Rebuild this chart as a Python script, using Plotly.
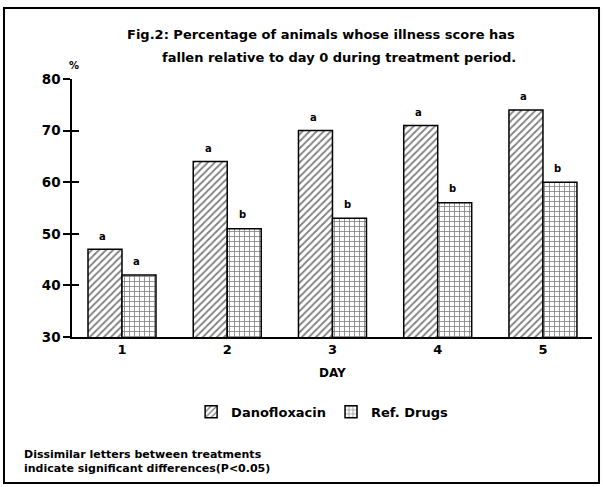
import plotly.graph_objects as go

days = [1, 2, 3, 4, 5]
day_labels = ["1", "2", "3", "4", "5"]
danofloxacin = [47, 64, 70, 71, 74]
ref_drugs = [42, 51, 53, 56, 60]
letters_dano = ["a", "a", "a", "a", "a"]
letters_ref = ["a", "b", "b", "b", "b"]
y_ticks = [30, 40, 50, 60, 70, 80]

FONT = "DejaVu Sans"

fig = go.Figure()
fig.add_trace(go.Bar(
    x=days, y=danofloxacin, name="<b>Danofloxacin</b>",
    marker=dict(color="white", line=dict(color="black", width=1.5),
                pattern=dict(shape="/", fgcolor="black", bgcolor="white", size=5, solidity=0.35)),
))
fig.add_trace(go.Bar(
    x=days, y=ref_drugs, name="<b>Ref. Drugs</b>",
    marker=dict(color="white", line=dict(color="black", width=1.5),
                pattern=dict(shape="+", fgcolor="black", bgcolor="white", size=5, solidity=0.3)),
))
# invisible trace to carry the overlay axis that draws the inner half of the ticks
fig.add_trace(go.Scatter(x=[1], y=[30], yaxis="y2", mode="markers",
                         marker=dict(opacity=0), showlegend=False, hoverinfo="skip"))

annotations = []
for d, v, t in zip(days, danofloxacin, letters_dano):
    annotations.append(dict(x=d, y=v, xref="x", yref="y", text="<b>%s</b>" % t,
                            showarrow=False, xshift=-19, yshift=13,
                            font=dict(family=FONT, size=10, color="black")))
for d, v, t in zip(days, ref_drugs, letters_ref):
    annotations.append(dict(x=d, y=v, xref="x", yref="y", text="<b>%s</b>" % t,
                            showarrow=False, xshift=15, yshift=14,
                            font=dict(family=FONT, size=10, color="black")))

annotations += [
    dict(x=0.856, y=1.174, xref="paper", yref="paper", xanchor="right", yanchor="middle",
         text="<b>Fig.2: Percentage of animals whose illness score has</b>", showarrow=False,
         font=dict(family=FONT, size=13, color="black")),
    dict(x=0.858, y=1.085, xref="paper", yref="paper", xanchor="right", yanchor="middle",
         text="<b>fallen relative to day 0 during treatment period.</b>", showarrow=False,
         font=dict(family=FONT, size=13, color="black")),
    dict(x=0.004, y=1.054, xref="paper", yref="paper", xanchor="center", yanchor="middle",
         text="<b>%</b>", showarrow=False, font=dict(family=FONT, size=10, color="black")),
    dict(x=-0.096, y=-0.484, xref="paper", yref="paper", xanchor="left", yanchor="middle",
         align="left",
         text="<b>Dissimilar letters between treatments<br>indicate significant differences(P<0.05)</b>",
         showarrow=False, font=dict(family=FONT, size=11, color="black")),
    dict(x=0.5, y=-0.14, xref="paper", yref="paper", xanchor="center", yanchor="middle",
         text="<b>DAY</b>", showarrow=False, font=dict(family=FONT, size=12, color="black")),
]

fig.update_layout(
    width=603, height=487,
    margin=dict(l=72, r=11, t=79, b=150),
    paper_bgcolor="white", plot_bgcolor="white",
    barmode="group", bargap=0.354, bargroupgap=0,
    font=dict(family=FONT, color="black"),
    showlegend=True,
    legend=dict(orientation="h", x=0.481, y=-0.29, xanchor="center", yanchor="middle",
                font=dict(family=FONT, size=13, color="black"), itemwidth=30),
    xaxis=dict(range=[0.525, 5.466], tickvals=days, ticktext=["<b>%s</b>" % s for s in day_labels],
               showline=True, linecolor="black", linewidth=1.5, ticks="",
               showgrid=False, zeroline=False,
               tickfont=dict(family=FONT, size=13, color="black")),
    yaxis=dict(range=[30, 80], tickvals=y_ticks, ticktext=["<b>%d</b>" % v for v in y_ticks],
               showline=True, linecolor="black", linewidth=1.5, ticks="outside", ticklen=7,
               tickwidth=1.5, tickcolor="black", showgrid=False, zeroline=False,
               tickfont=dict(family=FONT, size=13.5, color="black")),
    yaxis2=dict(range=[30, 80], overlaying="y", side="left", anchor="x", tickvals=y_ticks,
                showticklabels=False, ticks="inside", ticklen=7, tickwidth=1.5, tickcolor="black",
                showline=False, showgrid=False, zeroline=False),
    annotations=annotations,
    shapes=[dict(type="rect", xref="paper", yref="paper", x0=-0.1308, x1=1.0135, y0=-0.566, y1=1.275,
                 line=dict(color="black", width=2), fillcolor="rgba(0,0,0,0)", layer="below")],
)

fig.write_html("out.html", config={"displayModeBar": False},
               post_script="document.body.style.margin='0';document.body.style.overflow='hidden';")
